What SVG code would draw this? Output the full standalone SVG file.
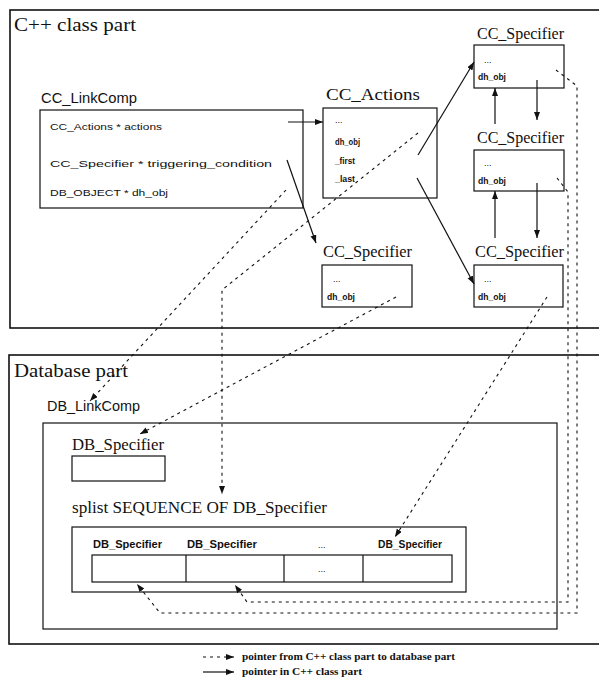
<svg xmlns="http://www.w3.org/2000/svg" width="599" height="684" viewBox="0 0 599 684">
<style>
.frame{fill:none;stroke:#111;stroke-width:1.6}
.box{fill:#fff;stroke:#111;stroke-width:1.2}
.title{font-family:"Liberation Serif",serif;font-size:19px;fill:#111}
.sans{font-family:"Liberation Sans",sans-serif;font-size:15px;fill:#111}
.name{font-family:"Liberation Serif",serif;font-size:17px;fill:#111}
.mem{font-family:"Liberation Sans",sans-serif;font-size:9px;fill:#111}
.fld{font-family:"Liberation Sans",sans-serif;font-size:9px;font-weight:bold;fill:#111}
.cell{font-family:"Liberation Sans",sans-serif;font-size:10px;font-weight:bold;fill:#111}
.leg{font-family:"Liberation Serif",serif;font-size:10px;font-weight:bold;fill:#111}
.solid{fill:none;stroke:#111;stroke-width:1.2;marker-end:url(#ah)}
.dash{fill:none;stroke:#111;stroke-width:1.1;stroke-dasharray:3 4;marker-end:url(#ah)}
</style>
<defs>
<marker id="ah" markerUnits="userSpaceOnUse" markerWidth="9" markerHeight="7" refX="8" refY="3" orient="auto">
<path d="M0,0 L8,3 L0,6 z" fill="#111"/>
</marker>
</defs>
<rect width="599" height="684" fill="#fff"/>

<g id="cpp-part">
<rect class="frame" x="10" y="10" width="620" height="318"/>
<text class="title" x="14" y="31" textLength="122" lengthAdjust="spacingAndGlyphs">C++ class part</text>
</g>
<g id="db-part">
<rect class="frame" x="9" y="355" width="620" height="289"/>
<text class="title" x="14" y="377" textLength="114" lengthAdjust="spacingAndGlyphs">Database part</text>
</g>

<g id="cc-linkcomp">
<text class="sans" x="41" y="103" textLength="96" lengthAdjust="spacingAndGlyphs">CC_LinkComp</text>
<rect class="box" x="40" y="110" width="263" height="98"/>
<text class="mem" x="50" y="130" textLength="112" lengthAdjust="spacingAndGlyphs">CC_Actions * actions</text>
<text class="mem" x="50" y="167" textLength="222" lengthAdjust="spacingAndGlyphs">CC_Specifier * triggering_condition</text>
<text class="mem" x="50" y="196" textLength="118" lengthAdjust="spacingAndGlyphs">DB_OBJECT * dh_obj</text>
</g>

<g id="cc-actions">
<text class="name" x="326" y="100" textLength="94" lengthAdjust="spacingAndGlyphs">CC_Actions</text>
<rect class="box" x="323" y="108" width="114" height="90"/>
<text class="mem" x="335" y="123">...</text>
<text class="fld" x="335" y="145" textLength="25" lengthAdjust="spacingAndGlyphs">dh_obj</text>
<text class="fld" x="335" y="164" textLength="20" lengthAdjust="spacingAndGlyphs">_first</text>
<text class="fld" x="335" y="182" textLength="20" lengthAdjust="spacingAndGlyphs">_last</text>
</g>

<g id="cc-spec-1">
<text class="name" x="477" y="39" textLength="87" lengthAdjust="spacingAndGlyphs">CC_Specifier</text>
<rect class="box" x="474" y="45" width="90" height="43"/>
<text class="mem" x="484" y="63">...</text>
<text class="fld" x="478" y="80" textLength="28" lengthAdjust="spacingAndGlyphs">dh_obj</text>
</g>

<g id="cc-spec-2">
<text class="name" x="477" y="143" textLength="87" lengthAdjust="spacingAndGlyphs">CC_Specifier</text>
<rect class="box" x="474" y="150" width="90" height="41"/>
<text class="mem" x="484" y="166">...</text>
<text class="fld" x="478" y="184" textLength="28" lengthAdjust="spacingAndGlyphs">dh_obj</text>
</g>

<g id="cc-spec-3">
<text class="name" x="475" y="257" textLength="89" lengthAdjust="spacingAndGlyphs">CC_Specifier</text>
<rect class="box" x="474" y="265" width="89" height="42"/>
<text class="mem" x="484" y="282">...</text>
<text class="fld" x="478" y="300" textLength="28" lengthAdjust="spacingAndGlyphs">dh_obj</text>
</g>

<g id="cc-spec-4">
<text class="name" x="323" y="257" textLength="89" lengthAdjust="spacingAndGlyphs">CC_Specifier</text>
<rect class="box" x="322" y="265" width="90" height="42"/>
<text class="mem" x="333" y="282">...</text>
<text class="fld" x="327" y="300" textLength="28" lengthAdjust="spacingAndGlyphs">dh_obj</text>
</g>

<g id="db-linkcomp">
<text class="sans" x="47" y="411" textLength="93" lengthAdjust="spacingAndGlyphs">DB_LinkComp</text>
<rect class="box" x="43" y="423" width="514" height="206"/>
</g>

<g id="db-spec">
<text class="name" x="72" y="450" textLength="92" lengthAdjust="spacingAndGlyphs">DB_Specifier</text>
<rect class="box" x="72" y="456" width="93" height="25"/>
</g>

<g id="splist">
<text class="name" x="72" y="513" textLength="255" lengthAdjust="spacingAndGlyphs">splist SEQUENCE OF DB_Specifier</text>
<rect class="box" x="72" y="527" width="394" height="65"/>
<text class="cell" x="93" y="548" textLength="69" lengthAdjust="spacingAndGlyphs">DB_Specifier</text>
<text class="cell" x="187" y="548" textLength="70" lengthAdjust="spacingAndGlyphs">DB_Specifier</text>
<text class="mem" x="318" y="548">...</text>
<text class="cell" x="378" y="548" textLength="64" lengthAdjust="spacingAndGlyphs">DB_Specifier</text>
<rect class="box" x="92" y="555" width="360" height="27"/>
<line x1="186" y1="555" x2="186" y2="582" stroke="#111" stroke-width="1.2"/>
<line x1="284" y1="555" x2="284" y2="582" stroke="#111" stroke-width="1.2"/>
<line x1="363" y1="555" x2="363" y2="582" stroke="#111" stroke-width="1.2"/>
<text class="mem" x="318" y="572">...</text>
</g>

<g id="connectors">
<path class="solid" d="M288,122 L323,122"/>
<path class="solid" d="M287,160 L316,243"/>
<path class="solid" d="M418,155 L474,62"/>
<path class="solid" d="M417,178 L474,284"/>
<path class="solid" d="M537,80 L537,120"/>
<path class="solid" d="M495,124 L495,88"/>
<path class="solid" d="M537,183 L537,238"/>
<path class="solid" d="M495,238 L495,191"/>

<path class="dash" d="M286,190 L90,401"/>
<path class="dash" d="M418,133 L222,290 L222,494"/>
<path class="dash" d="M396,297 L140,434"/>
<path class="dash" d="M547,297 L395,537"/>
<path class="dash" d="M556,70 L577,86 L577,613 L160,613 L137,584"/>
<path class="dash" d="M557,178 L568,192 L568,602 L247,602 L235,585"/>
</g>

<g id="legend">
<path class="dash" d="M203,657 L234,657"/>
<text class="leg" x="242" y="660" textLength="213" lengthAdjust="spacingAndGlyphs">pointer from C++ class part to database part</text>
<path class="solid" d="M203,672 L234,672"/>
<text class="leg" x="242" y="675" textLength="120" lengthAdjust="spacingAndGlyphs">pointer in C++ class part</text>
</g>
</svg>
